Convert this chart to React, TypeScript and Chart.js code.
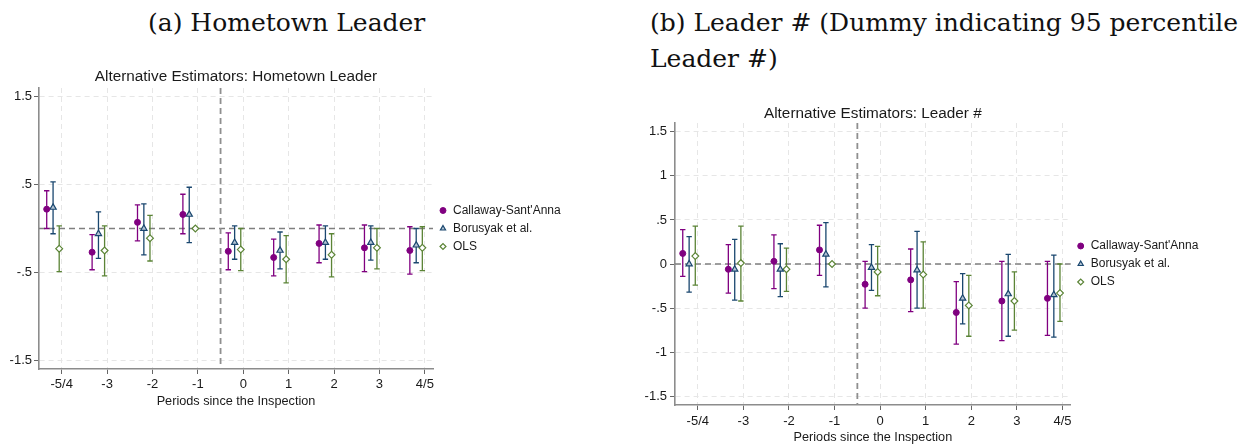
import React, { useEffect, useRef } from "react";
import { Chart, registerables } from "chart.js";

Chart.register(...registerables);

// ---------- data ----------
const periods = ["-5/4", "-3", "-2", "-1", "0", "1", "2", "3", "4/5"];
const seriesNames = ["Callaway-Sant'Anna", "Borusyak et al.", "OLS"];
const hometownTicks = [1.5, 0.5, -0.5, -1.5];
const leaderTicks = [1.5, 1, 0.5, 0, -0.5, -1, -1.5];

// (a) Hometown Leader
const htCS = [0.22, -0.27, 0.07, 0.16, -0.26, -0.33, -0.17, -0.22, -0.25];
const htCSLo = [0.0, -0.47, -0.14, -0.06, -0.47, -0.54, -0.39, -0.49, -0.52];
const htCSHi = [0.43, -0.07, 0.27, 0.39, -0.05, -0.12, 0.04, 0.04, 0.02];
const htBJS = [0.24, -0.06, 0.0, 0.16, -0.16, -0.25, -0.16, -0.16, -0.19];
const htBJSLo = [-0.06, -0.34, -0.3, -0.16, -0.35, -0.46, -0.35, -0.36, -0.39];
const htBJSHi = [0.53, 0.19, 0.28, 0.47, 0.03, -0.04, 0.03, 0.03, 0.0];
const htOLS = [-0.23, -0.25, -0.11, 0, -0.24, -0.35, -0.3, -0.22, -0.22];
const htOLSLo = [-0.49, -0.54, -0.37, 0, -0.48, -0.62, -0.55, -0.46, -0.48];
const htOLSHi = [0.03, 0.03, 0.15, 0, 0.0, -0.08, -0.06, 0.0, 0.02];

// (b) Leader #
const ldCS = [0.12, -0.06, 0.03, 0.16, -0.23, -0.18, -0.55, -0.42, -0.39];
const ldCSLo = [-0.14, -0.33, -0.28, -0.13, -0.5, -0.54, -0.91, -0.87, -0.81];
const ldCSHi = [0.39, 0.22, 0.33, 0.44, 0.03, 0.17, -0.2, 0.03, 0.03];
const ldBJS = [0.0, -0.06, -0.06, 0.11, -0.04, -0.07, -0.39, -0.34, -0.35];
const ldBJSLo = [-0.32, -0.41, -0.37, -0.26, -0.3, -0.5, -0.68, -0.82, -0.83];
const ldBJSHi = [0.31, 0.28, 0.23, 0.47, 0.22, 0.37, -0.11, 0.11, 0.1];
const ldOLS = [0.09, 0.01, -0.06, 0, -0.09, -0.12, -0.47, -0.42, -0.33];
const ldOLSLo = [-0.24, -0.42, -0.31, 0, -0.36, -0.5, -0.82, -0.75, -0.65];
const ldOLSHi = [0.43, 0.43, 0.18, 0, 0.2, 0.25, -0.13, -0.09, 0.0];

// ---------- styling ----------
const dodge = [-0.33, -0.19, -0.055];
const SANS = '"Liberation Sans", Arial, sans-serif';
const TEXT = "#1a1a1a";
const LEGEND_FONT = 12;
const LEGEND_PAD = 6;
const LEGEND_BOX = 8;
const markerStyles: any[] = [
  { pointStyle: "circle", pointRadius: 3, backgroundColor: "#800080", borderColor: "#800080", borderWidth: 1, errColor: "#800080" },
  { pointStyle: "triangle", pointRadius: 3.6, backgroundColor: "#b4c4d4", borderColor: "#1a476f", borderWidth: 1.2, errColor: "#1a476f" },
  { pointStyle: "rectRot", pointRadius: 3.4, backgroundColor: "#ffffff", borderColor: "#5b8436", borderWidth: 1.2, errColor: "#5b8436" },
];

const fmt = (v: number) => String(v).replace(/^(-?)0\./, "$1.");

const refLinesPlugin = {
  id: "refLines",
  beforeDatasetsDraw(chart: any) {
    const { ctx, chartArea, scales } = chart;
    const x = scales.x, y = scales.y;
    ctx.save();
    ctx.strokeStyle = "#7f7f7f";
    ctx.lineWidth = 1.3;
    ctx.setLineDash([6, 4]);
    const y0 = y.getPixelForValue(0);
    ctx.beginPath();
    ctx.moveTo(chartArea.left, y0);
    ctx.lineTo(chartArea.right, y0);
    ctx.stroke();
    const xv = x.getPixelForValue(3.5);
    ctx.lineWidth = 1.8;
    ctx.strokeStyle = "#8f8f8f";
    ctx.beginPath();
    ctx.moveTo(xv, chartArea.top);
    ctx.lineTo(xv, chartArea.bottom);
    ctx.stroke();
    ctx.restore();
  },
};

const errorBarPlugin = {
  id: "errorBars",
  beforeDatasetsDraw(chart: any) {
    const { ctx, scales } = chart;
    const x = scales.x, y = scales.y;
    chart.data.datasets.forEach((ds: any) => {
      ctx.save();
      ctx.strokeStyle = ds.errColor;
      ctx.lineWidth = 1.3;
      ds.data.forEach((p: any, i: number) => {
        const lo = ds.errLo[i], hi = ds.errHi[i];
        if (lo === hi) return;
        const px = x.getPixelForValue(p.x);
        const yl = y.getPixelForValue(lo);
        const yh = y.getPixelForValue(hi);
        ctx.beginPath();
        ctx.moveTo(px, yl);
        ctx.lineTo(px, yh);
        ctx.moveTo(px - 2.7, yl);
        ctx.lineTo(px + 2.7, yl);
        ctx.moveTo(px - 2.7, yh);
        ctx.lineTo(px + 2.7, yh);
        ctx.stroke();
      });
      ctx.restore();
    });
  },
};

type Props = {
  title: string;
  est: number[][];
  lo: number[][];
  hi: number[][];
  yTicks: number[];
  width: number;
  height: number;
  left: number;
  top: number;
  yAxisWidth: number;
  areaRight: number; // desired right edge of the plot area, canvas coords
  titlePadTop: number;
  titlePadBottom: number;
  xTickPad: number;
  yTickPad: number;
};

function EventChart(p: Props) {
  const ref = useRef<HTMLCanvasElement>(null);
  useEffect(() => {
    const canvas = ref.current as HTMLCanvasElement;
    const mctx = canvas.getContext("2d") as CanvasRenderingContext2D;
    mctx.font = `${LEGEND_FONT}px ${SANS}`;
    const textW = Math.max(...seriesNames.map((n) => mctx.measureText(n).width));
    const legendW = LEGEND_PAD + LEGEND_BOX + LEGEND_FONT / 2 + textW + 10;
    const padRight = Math.max(0, p.width - p.areaRight - legendW);

    const datasets = p.est.map((vals, s) => ({
      label: seriesNames[s],
      data: vals.map((v, i) => ({ x: i + dodge[s], y: v })),
      errLo: p.lo[s],
      errHi: p.hi[s],
      showLine: false,
      pointHoverRadius: markerStyles[s].pointRadius,
      ...markerStyles[s],
    }));
    const chart = new Chart(canvas, {
      type: "scatter",
      data: { datasets } as any,
      plugins: [refLinesPlugin, errorBarPlugin],
      options: {
        animation: false,
        responsive: false,
        devicePixelRatio: 1,
        layout: { padding: { top: 0, left: 0, bottom: 0, right: padRight } },
        plugins: {
          tooltip: { enabled: false },
          title: {
            display: true,
            fullSize: false,
            text: p.title,
            color: TEXT,
            font: { family: SANS, size: 15.3, weight: "normal", lineHeight: 1 },
            padding: { top: p.titlePadTop, bottom: p.titlePadBottom },
          },
          legend: {
            display: true,
            position: "right",
            align: "center",
            fullSize: false,
            labels: {
              usePointStyle: true,
              boxWidth: LEGEND_BOX,
              boxHeight: 4.2,
              padding: LEGEND_PAD,
              color: TEXT,
              font: { family: SANS, size: LEGEND_FONT },
            },
          },
        },
        scales: {
          x: {
            type: "linear",
            min: -0.5,
            max: 8.18,
            afterBuildTicks: (s: any) => {
              s.ticks = periods.map((_, i) => ({ value: i }));
            },
            afterFit: (s: any) => {
              s.height = 40;
            },
            ticks: {
              autoSkip: false,
              maxRotation: 0,
              minRotation: 0,
              padding: p.xTickPad,
              color: TEXT,
              font: { family: SANS, size: 13 },
              callback: (v: any) => periods[Math.round(v)] ?? "",
            },
            grid: {
              color: "#e6e6e6",
              lineWidth: 1,
              tickColor: "#666",
              tickLength: 5,
              tickWidth: 1,
              tickBorderDash: [],
            },
            border: { display: true, color: "#8c8c8c", width: 1.6, dash: [5, 4] },
            title: {
              display: true,
              text: "Periods since the Inspection",
              color: TEXT,
              font: { family: SANS, size: 12.7 },
              padding: { top: 0, bottom: 0 },
            },
          },
          y: {
            type: "linear",
            min: -1.6,
            max: 1.6,
            afterBuildTicks: (s: any) => {
              s.ticks = p.yTicks.map((v) => ({ value: v }));
            },
            afterFit: (s: any) => {
              s.width = p.yAxisWidth;
            },
            ticks: {
              padding: p.yTickPad,
              color: TEXT,
              font: { family: SANS, size: 13 },
              callback: (v: any) => fmt(Number(v)),
            },
            grid: {
              color: "#e6e6e6",
              lineWidth: 1,
              tickColor: "#666",
              tickLength: 5,
              tickWidth: 1,
              tickBorderDash: [],
            },
            border: { display: true, color: "#8c8c8c", width: 1.6, dash: [5, 4] },
          },
        },
      } as any,
    });
    return () => chart.destroy();
  }, []);
  return (
    <canvas
      ref={ref}
      width={p.width}
      height={p.height}
      style={{ position: "absolute", left: p.left, top: p.top, width: p.width, height: p.height }}
    />
  );
}

export default function App() {
  const capStyle: React.CSSProperties = {
    position: "absolute",
    top: 5,
    fontFamily: '"DejaVu Serif", serif',
    fontSize: 25,
    lineHeight: "36px",
    color: "#111",
    whiteSpace: "nowrap",
  };
  return (
    <div style={{ position: "absolute", left: 0, top: 0, width: 1243, height: 448, background: "#fff", overflow: "hidden" }}>
      <div style={{ ...capStyle, left: 148 }}>(a) Hometown Leader</div>
      <div style={{ ...capStyle, left: 650 }}>
        (b) Leader # (Dummy indicating 95 percentile
        <br />
        Leader #)
      </div>
      <EventChart
        title="Alternative Estimators: Hometown Leader"
        est={[htCS, htBJS, htOLS]}
        lo={[htCSLo, htBJSLo, htOLSLo]}
        hi={[htCSHi, htBJSHi, htOLSHi]}
        yTicks={hometownTicks}
        width={600}
        height={349}
        left={0}
        top={60}
        yAxisWidth={39}
        areaRight={433}
        titlePadTop={9.35}
        titlePadBottom={3.35}
        xTickPad={2.2}
        yTickPad={2}
      />
      <EventChart
        title="Alternative Estimators: Leader #"
        est={[ldCS, ldBJS, ldOLS]}
        lo={[ldCSLo, ldBJSLo, ldOLSLo]}
        hi={[ldCSHi, ldBJSHi, ldOLSHi]}
        yTicks={leaderTicks}
        width={623}
        height={350}
        left={620}
        top={95}
        yAxisWidth={55}
        areaRight={450.7}
        titlePadTop={11.35}
        titlePadBottom={1.35}
        xTickPad={4}
        yTickPad={3}
      />
    </div>
  );
}
